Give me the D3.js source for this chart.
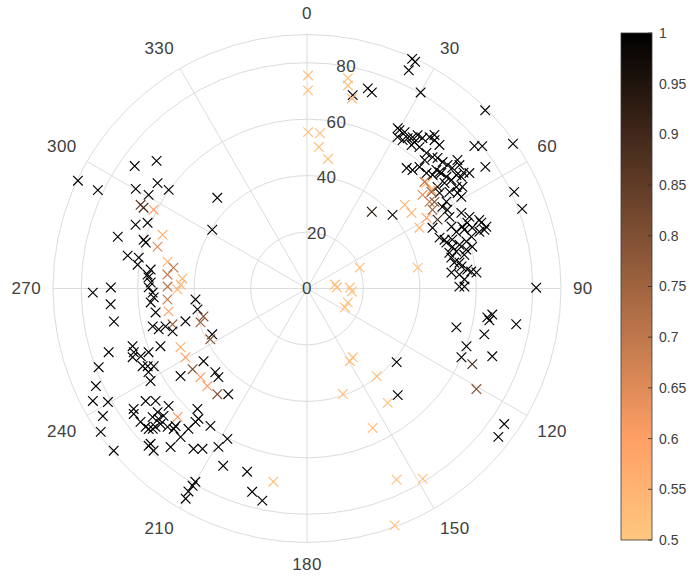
<!DOCTYPE html>
<html><head><meta charset="utf-8">
<script src="https://cdn.jsdelivr.net/npm/d3@7"></script>
<style>body{margin:0;background:#fff}svg{display:block}text{font-family:"Liberation Sans",Arial,sans-serif}</style>
</head><body>
<svg id="c" width="697" height="576"></svg>
<script>
// ---- data: angle (deg, clockwise from top), radius, colour value ----
const theta = [24.6,25.5,25.0,30.1,45.0,54.9,49.6,50.9,55.7,65.0,69.7,89.8,16.9,18.3,13.3,30.3,30.9,32.8,33.8,34.9,35.8,37.5,39.0,40.7,42.7,36.1,38.5,41.4,43.7,45.0,47.0,48.7,50.3,49.5,39.6,41.7,42.8,46.0,47.9,48.7,51.3,53.1,52.8,54.1,54.6,55.8,55.9,56.8,52.5,54.2,57.6,58.1,47.5,51.0,53.5,58.9,60.7,66.8,69.2,68.3,67.7,69.8,68.3,71.0,71.8,69.0,71.8,71.4,74.0,73.6,75.8,75.9,76.1,77.9,80.0,81.9,83.3,83.7,84.8,84.6,89.3,86.7,
42.5,49.3,59.3,52.1,63.3,63.9,66.2,69.3,71.7,69.5,72.5,70.5,74.0,76.3,77.9,80.4,84.1,89.3,29.5,32.0,36.3,39.7,
62.2,64.2,49.3,40.2,48.5,51.6,49.4,54.1,61.6,51.0,54.7,57.9,59.4,52.2,55.8,47.8,79.3,68.4,81.9,88.0,88.7,93.8,108.9,116.6,0.3,0.3,11.0,11.4,13.3,0.4,4.8,4.8,9.2,
98.0,99.1,99.9,99.7,104.6,104.5,109.9,114.0,110.1,114.6,120.7,124.5,127.8,129.4,139.6,146.3,149.5,141.5,161.2,144.8,154.8,154.9,148.7,159.7,
295.2,295.2,305.4,310.3,305.2,305.5,300.2,300.6,315.3,301.8,296.7,296.3,297.2,290.4,292.4,285.3,286.6,285.9,280.4,280.4,278.0,290.4,285.6,280.9,278.9,275.7,274.5,271.8,270.8,269.6,265.5,260.6,255.1,274.0,272.2,270.4,268.5,266.7,264.9,261.0,256.2,254.6,275.0,276.9,268.9,270.3,265.4,260.3,264.4,259.2,254.9,252.4,254.9,255.0,252.3,244.2,242.3,
252.2,249.3,245.2,242.3,240.3,238.0,235.2,230.0,251.7,249.8,248.5,248.1,248.5,244.7,243.1,242.2,239.4,235.3,245.1,240.5,234.8,230.2,225.6,220.3,234.9,227.6,225.0,216.7,235.1,233.4,229.7,235.2,234.1,230.4,228.4,231.3,229.4,228.4,227.6,227.2,225.2,225.2,223.7,223.5,220.2,222.3,219.8,215.1,220.4,225.2,223.4,220.7,215.3,213.1,209.2,207.9,205.3,198.1,189.9,195.1,191.9,210.0,210.1,210.3,210.0,230.2,228.7,225.2,247.8,244.0,227.7,219.9];
const rho = [89.5,89.0,85.3,80.3,89.3,89.2,77.9,80.0,76.5,81.0,81.3,81.2,74.1,73.2,70.4,65.0,62.5,62.6,64.1,65.4,67.0,67.2,69.0,69.3,69.2,62.9,64.0,64.0,64.4,65.4,65.7,66.3,66.9,70.1,55.4,56.2,58.7,58.9,60.0,62.5,63.3,64.0,66.5,67.5,70.6,64.0,61.0,65.8,61.4,57.9,63.2,58.2,62.2,69.5,69.0,56.0,57.0,55.7,56.6,59.2,61.4,62.4,65.7,67.2,64.3,50.3,52.0,54.3,56.2,58.9,60.4,52.0,54.5,57.0,53.0,55.3,57.2,51.5,54.2,60.3,54.0,55.9,
61.7,62.8,63.6,58.6,56.5,60.9,62.9,66.0,66.2,59.5,61.1,51.7,53.6,58.1,52.3,54.8,58.5,55.8,65.3,65.3,64.4,70.7,
52.3,49.4,40.0,35.6,56.5,56.3,45.6,45.7,45.3,52.7,53.2,52.5,49.2,55.8,54.6,56.2,39.9,20.1,10.0,10.6,15.2,15.9,15.3,15.0,75.5,70.2,75.9,73.4,69.2,55.4,55.2,50.3,46.5,
66.3,64.7,65.6,75.2,54.7,64.9,60.1,59.9,69.9,64.4,69.8,84.8,85.8,41.1,49.6,29.3,29.9,39.7,39.5,49.6,54.6,74.8,78.9,89.5,
89.7,81.9,74.9,69.9,64.8,60.2,70.2,65.2,45.2,39.5,66.0,64.6,61.1,64.8,61.1,69.5,60.4,59.4,64.6,60.6,60.6,54.6,55.0,50.3,47.9,49.7,44.3,44.8,49.4,45.9,49.6,49.7,49.3,56.3,55.4,56.1,54.7,54.4,55.6,54.3,56.3,54.5,56.7,55.8,75.9,69.5,69.8,69.4,39.7,39.5,38.0,39.6,44.6,51.9,50.0,37.3,38.7,
73.8,78.9,82.4,85.7,81.2,85.3,89.0,89.4,65.1,65.4,66.4,60.5,55.8,64.4,60.9,63.5,64.4,54.5,49.4,49.5,49.6,49.1,49.4,49.1,44.8,44.0,44.4,46.7,69.7,66.8,64.3,74.8,75.8,68.7,68.0,75.6,75.3,75.0,72.7,70.7,69.6,64.6,67.4,68.6,65.1,57.7,60.1,59.5,69.1,79.1,79.1,74.1,69.6,67.8,64.3,60.3,69.5,68.3,69.5,74.6,76.8,79.1,80.8,83.3,86.0,71.2,70.0,78.1,63.6,62.8,73.9,61.6];
const cval = [1,1,1,1,1,1,1,1,1,1,1,1,1,1,1,1,1,1,1,1,1,1,1,1,1,1,1,1,1,1,1,1,1,1,1,1,1,1,1,1,1,1,1,1,1,1,1,1,1,1,1,1,1,1,1,1,1,1,1,1,1,1,1,1,1,1,1,1,1,1,1,1,1,1,1,1,1,1,1,1,1,1,
1,1,1,1,1,1,1,1,1,1,1,1,1,1,1,1,1,1,1,1,1,1,
0.9,1,0.97,0.95,0.55,0.6,0.55,0.55,0.55,0.65,0.7,0.75,0.58,0.75,0.8,0.7,0.52,0.52,0.52,0.52,0.52,0.52,0.52,0.52,0.52,0.52,0.52,0.52,0.55,0.52,0.52,0.52,0.52,
1,1,1,1,1,1,1,1,1,0.9,0.8,1,1,1,1,0.52,0.52,0.52,0.52,0.52,0.52,0.52,0.52,0.52,
1,1,1,1,1,1,1,1,1,1,0.85,0.9,0.6,1,1,1,1,1,1,1,1,0.55,0.65,0.55,0.7,0.7,0.55,0.55,0.72,0.55,0.7,0.6,0.75,1,1,1,1,1,1,1,1,1,1,1,1,1,1,1,1,1,0.8,0.75,1,1,1,1,0.8,
1,1,1,1,1,1,1,1,1,1,1,1,1,1,1,1,1,1,0.55,0.58,0.8,0.6,0.6,0.8,1,1,1,1,1,1,1,1,1,1,1,1,1,1,1,1,1,0.6,1,1,1,1,1,1,1,1,1,1,1,1,1,1,1,1,0.52,1,1,1,1,1,1,1,1,1,1,1,1,1];

const thetaTicks = [0,30,60,90,120,150,180,210,240,270,300,330];
const rTicks = [0,20,40,60,80];
const rMax = 90;
const cTicks = [0.5,0.55,0.6,0.65,0.7,0.75,0.8,0.85,0.9,0.95,1];
const cRange = [0.5, 1];

// ---- layout ----
const cx = 307, cy = 288.5, R = 254;
const svg = d3.select("#c");
const g = svg.append("g").attr("transform", `translate(${cx},${cy})`);
const rScale = d3.scaleLinear().domain([0, rMax]).range([0, R]);
const toRad = d => d * Math.PI / 180;

// reversed MATLAB copper colormap
function copper(v) {
  let s = 1 - (v - cRange[0]) / (cRange[1] - cRange[0]);
  s = Math.max(0, Math.min(1, s));
  const r = Math.min(1, 1.25 * s), gg = 0.7812 * s, b = 0.4975 * s;
  return d3.rgb(r * 255, gg * 255, b * 255).formatHex();
}

const gridCol = "#dcdcdc";
g.selectAll("line.spoke").data(thetaTicks).join("line")
  .attr("x1", 0).attr("y1", 0)
  .attr("x2", d => d3.pointRadial(toRad(d), R)[0])
  .attr("y2", d => d3.pointRadial(toRad(d), R)[1])
  .attr("stroke", gridCol).attr("stroke-width", 1);
g.selectAll("circle.ring").data(rTicks.filter(d => d > 0).concat([rMax])).join("circle")
  .attr("r", d => rScale(d)).attr("fill", "none")
  .attr("stroke", gridCol).attr("stroke-width", 1);

// theta labels
const labGap = 12;
g.selectAll("text.th").data(thetaTicks).join("text")
  .each(function(d) {
    const a = toRad(d), s = Math.sin(a), c = Math.cos(a);
    const [x, y] = d3.pointRadial(a, R + labGap);
    d3.select(this).attr("x", x).attr("y", y)
     .attr("text-anchor", Math.abs(s) < 0.01 ? "middle" : (s > 0 ? "start" : "end"))
     .attr("dy", Math.abs(c) < 0.01 ? "0.35em" : (c > 0 ? "-0.22em" : "0.9em"));
  })
  .attr("font-size", 17).attr("letter-spacing", 0.4).attr("fill", "#404040")
  .text(d => d);

// r labels along 10 deg
g.selectAll("text.rl").data(rTicks).join("text")
  .attr("x", d => d3.pointRadial(toRad(10), rScale(d))[0])
  .attr("y", d => d3.pointRadial(toRad(10), rScale(d))[1])
  .attr("text-anchor", "middle").attr("dy", "0.35em")
  .attr("font-size", 17).attr("letter-spacing", 0.4).attr("fill", "#404040")
  .text(d => d);

// markers
const pts = theta.map((t, i) => ({ t, r: rho[i], v: cval[i] }));
const ms = 4.8;
g.selectAll("path.mk").data(pts).join("path")
  .attr("transform", d => {
    const [x, y] = d3.pointRadial(toRad(d.t), rScale(d.r));
    return `translate(${x},${y})`;
  })
  .attr("d", `M${-ms},${-ms}L${ms},${ms}M${-ms},${ms}L${ms},${-ms}`)
  .attr("stroke", d => copper(d.v)).attr("stroke-width", 1.15).attr("fill", "none");

// colorbar
const cbX = 621, cbW = 31, cbTop = 33, cbBot = 540;
const cScale = d3.scaleLinear().domain(cRange).range([cbBot, cbTop]);
const defs = svg.append("defs");
const grad = defs.append("linearGradient").attr("id", "cg")
  .attr("x1", 0).attr("y1", 1).attr("x2", 0).attr("y2", 0);
d3.range(0, 65).forEach(i => {
  const f = i / 64;
  grad.append("stop").attr("offset", f).attr("stop-color", copper(cRange[0] + f * (cRange[1] - cRange[0])));
});
svg.append("rect").attr("x", cbX).attr("y", cbTop).attr("width", cbW).attr("height", cbBot - cbTop)
  .attr("fill", "url(#cg)");
const cb = svg.append("g");
cb.selectAll("line").data(cTicks).join("line")
  .attr("x1", cbX + cbW).attr("x2", cbX + cbW - 4)
  .attr("y1", d => cScale(d)).attr("y2", d => cScale(d))
  .attr("stroke", "#262626").attr("stroke-width", 0.8);
svg.append("rect").attr("x", cbX).attr("y", cbTop).attr("width", cbW).attr("height", cbBot - cbTop)
  .attr("fill", "none").attr("stroke", "#3a3a3a").attr("stroke-width", 0.8);
cb.selectAll("text").data(cTicks).join("text")
  .attr("x", cbX + cbW + 7).attr("y", d => cScale(d)).attr("dy", "0.35em")
  .attr("font-size", 14).attr("fill", "#404040")
  .text(d => d3.format("")(d));
</script>
</body></html>
